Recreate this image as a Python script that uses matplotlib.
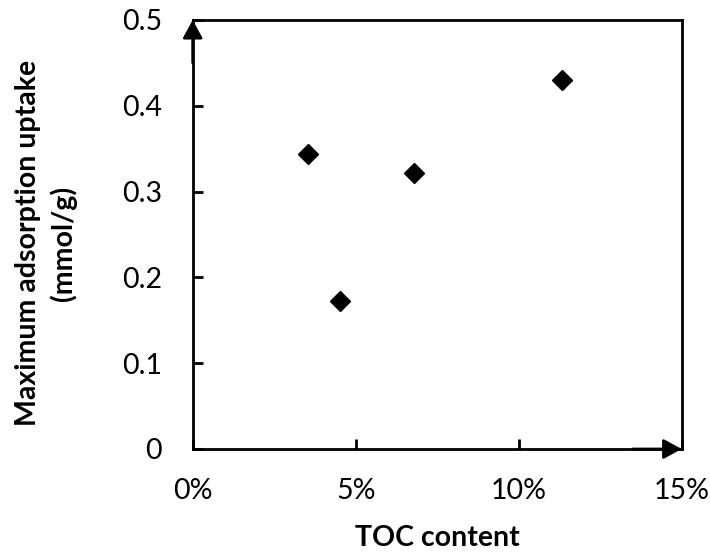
import matplotlib
matplotlib.use("Agg")
import matplotlib.pyplot as plt
from matplotlib.ticker import FuncFormatter

plt.rcParams['font.family'] = ['Lato', 'DejaVu Sans']

# TOC content (%) and max adsorption uptake (mmol/g)
toc = [3.53, 4.52, 6.80, 11.32]
uptake = [0.344, 0.172, 0.322, 0.430]

x_ticks = [0, 5, 10, 15]
y_ticks = [0, 0.1, 0.2, 0.3, 0.4, 0.5]

fig = plt.figure(figsize=(7.1, 5.55), dpi=100)
ax = fig.add_axes([0.2714, 0.191, 0.6887, 0.773])

ax.plot(toc, uptake, ls='none', marker='D', markersize=10, color='black')

ax.set_xlim(0, 15)
ax.set_ylim(0, 0.5)
ax.set_xticks(x_ticks)
ax.set_yticks(y_ticks)
ax.xaxis.set_major_formatter(FuncFormatter(lambda v, p: f"{v:.0f}%"))
ax.yaxis.set_major_formatter(FuncFormatter(lambda v, p: "0" if v == 0 else f"{v:.1f}"))
ax.tick_params(direction='in', length=7, width=2, labelsize=20.5)
ax.tick_params(axis='x', pad=21)
ax.tick_params(axis='y', pad=22)

for s in ax.spines.values():
    s.set_linewidth(2)

# arrowheads on axes
head = '-|>,head_length=0.55,head_width=0.3'
ax.annotate('', xy=(1.0, 0), xytext=(0.9, 0), xycoords='axes fraction',
            arrowprops=dict(arrowstyle=head, color='black', lw=2, mutation_scale=20,
                            shrinkA=0, shrinkB=0))
ax.annotate('', xy=(0, 1.0), xytext=(0, 0.9), xycoords='axes fraction',
            arrowprops=dict(arrowstyle=head, color='black', lw=2, mutation_scale=20,
                            shrinkA=0, shrinkB=0))

ax.set_xlabel("TOC content", fontsize=20.5, fontweight='bold', labelpad=15)
ax.set_ylabel("Maximum adsorption uptake\n(mmol/g)", fontsize=20.5, fontweight='bold',
              linespacing=1.4)
ax.yaxis.set_label_coords(-0.236, 0.48)

fig.savefig("out.png", dpi=100)
